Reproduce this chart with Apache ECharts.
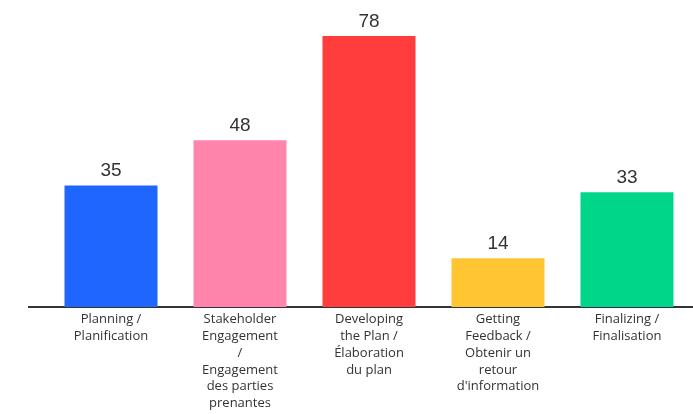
<!DOCTYPE html>
<html><head><meta charset="utf-8">
<script src="https://cdn.jsdelivr.net/npm/echarts@6/dist/echarts.min.js"></script>
<style>html,body{margin:0;padding:0;background:#fff}#c{width:693px;height:414px}</style>
</head><body><div id="c"></div>
<script>
const categories = [
  "Planning /\nPlanification",
  "Stakeholder\nEngagement\n/\nEngagement\ndes parties\nprenantes",
  "Developing\nthe Plan /\nÉlaboration\ndu plan",
  "Getting\nFeedback /\nObtenir un\nretour\nd'information",
  "Finalizing /\nFinalisation"
];
const values = [35, 48, 78, 14, 33];
const colors = ["#1F66FF", "#FF85AD", "#FF3D3D", "#FFC533", "#00D68A"];

const chart = echarts.init(document.getElementById('c'));
chart.setOption({
  animation: false,
  grid: {left: 46.5, right: 1.5, top: 29, bottom: 107},
  xAxis: {
    type: 'category', data: categories,
    axisLine: {show: false}, axisTick: {show: false},
    axisLabel: {color: '#333', fontSize: 13, lineHeight: 16.8, fontFamily: 'Open Sans', margin: 4, interval: 0}
  },
  yAxis: {type: 'value', min: 0, max: 80, show: false},
  series: [{
    type: 'bar', barWidth: 93,
    data: values.map((v, i) => ({value: v, itemStyle: {color: colors[i]}})),
    label: {show: true, position: 'top', color: '#333', fontSize: 19, fontFamily: 'Liberation Sans', distance: 5}
  }]
});
const y0 = chart.convertToPixel({gridIndex: 0}, [0, 0])[1];
chart.setOption({graphic: [{type: 'line', shape: {x1: 28, y1: y0, x2: 693, y2: y0}, style: {stroke: '#333', lineWidth: 2}}]});
</script></body></html>
